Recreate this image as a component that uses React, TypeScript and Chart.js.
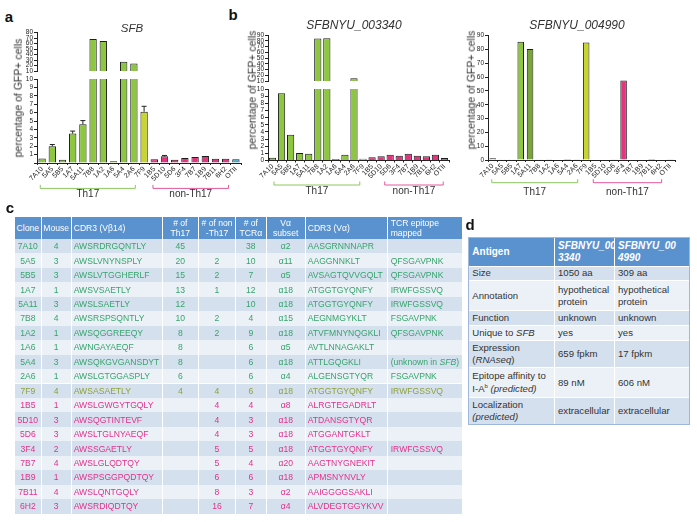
import React, { useEffect, useRef } from "react";
import { Chart, registerables } from "chart.js";
Chart.register(...registerables);

const FONT = "'Liberation Sans', Arial, Helvetica, sans-serif";

// ---------- chart data ----------
const clones = ["7A10", "5A5", "5B5", "1A7", "5A11", "7B8", "1A2", "1A6", "5A4", "2A6", "7F9", "1B5", "5D10", "5D6", "3F4", "7B7", "1B9", "7B11", "6H2", "OTII"];
const sfbPct = [0.55, 2.0, 0.4, 3.5, 4.6, 68.5, 65, 0.2, 27, 24, 6.1, 0.44, 0.8, 0.4, 0.6, 0.72, 0.83, 0.52, 0.52, 0.45];
const sfbErr = [0, 0.2, 0, 0.3, 0.45, 0, 0, 0, 0, 0, 0.65, 0, 0.1, 0, 0, 0, 0, 0, 0, 0];
const pct003340 = [0.4, 9.4, 3.6, 1.05, 0.95, 84, 84.5, 0.2, 0.8, 15, 0.25, 0.45, 0.6, 0.8, 0.65, 0.95, 0.65, 0.6, 0.8, 0.35];
const pct004990 = [1.2, 0.15, 0.15, 85.7, 80.3, 0.15, 0.5, 0.3, 0.7, 0.5, 85, 0.4, 0.3, 0.6, 57.5, 0.3, 0.4, 0.8, 0.3, 0.2];

// ---------- table c data ----------
const cMouse = ["4", "3", "3", "1", "3", "4", "1", "1", "3", "1", "4", "1", "3", "3", "2", "4", "1", "4", "3"];
const cCdr3b = ["AWSRDRGQNTLY", "AWSLVNYNSPLY", "AWSLVTGGHERLF", "AWSVSAETLY", "AWSLSAETLY", "AWSRSPSQNTLY", "AWSQGGREEQY", "AWNGAYAEQF", "AWSQKGVGANSDYT", "AWSLGTGGASPLY", "AWSASAETLY", "AWSLGWGYTGQLY", "AWSQGTINTEVF", "AWSLTGLNYAEQF", "AWSSGAETLY", "AWSLGLQDTQY", "AWSPSGGPQDTQY", "AWSLQNTGQLY", "AWSRDIQDTQY"];
const cNTh17 = ["45", "20", "15", "13", "12", "10", "8", "8", "8", "6", "4", "", "", "", "", "", "", "", ""];
const cNNon = ["", "2", "2", "1", "", "2", "2", "", "", "", "4", "4", "4", "4", "5", "5", "6", "8", "16"];
const cNTcra = ["38", "10", "7", "12", "10", "4", "9", "6", "6", "6", "6", "4", "3", "3", "5", "4", "6", "3", "7"];
const cVa = ["α2", "α11", "α5", "α18", "α18", "α15", "α18", "α5", "α18", "α4", "α18", "α8", "α18", "α18", "α18", "α20", "α18", "α2", "α4"];
const cCdr3a = ["AASGRNNNAPR", "AAGGNNKLT", "AVSAGTQVVGQLT", "ATGGTGYQNFY", "ATGGTGYQNFY", "AEGNMGYKLT", "ATVFMNYNQGKLI", "AVTLNNAGAKLT", "ATTLGQGKLI", "ALGENSGTYQR", "ATGGTGYQNFY", "ALRGTEGADRLT", "ATDANSGTYQR", "ATGGANTGKLT", "ATGGTGYQNFY", "AAGTNYGNEKIT", "APMSNYNVLY", "AAIGGGGSAKLI", "ALVDEGTGGYKVV"];
const cEpitope = ["", "QFSGAVPNK", "QFSGAVPNK", "IRWFGSSVQ", "IRWFGSSVQ", "FSGAVPNK", "QFSGAVPNK", "", "(unknown in SFB)", "FSGAVPNK", "IRWFGSSVQ", "", "", "", "IRWFGSSVQ", "", "", "", ""];
const cHeaders = ["Clone", "Mouse", "CDR3 (Vβ14)", "# of\nTh17", "# of non\n-Th17", "# of\nTCRα", "Vα\nsubset", "CDR3 (Vα)", "TCR epitope\nmapped"];

// ---------- table d data ----------
const dHeaders = ["Antigen", "SFBNYU_00\n3340", "SFBNYU_00\n4990"];
const dAttr: React.ReactNode[] = [
  "Size",
  "Annotation",
  "Function",
  <>Unique to <i>SFB</i></>,
  <>Expression<br />(<i>RNAseq</i>)</>,
  <>Epitope affinity to<br />I-A<sup style={{ fontSize: "6px", verticalAlign: "4px" }}>b</sup> <i>(predicted)</i></>,
  <>Localization<br /><i>(predicted)</i></>,
];
const d003340: React.ReactNode[] = ["1050 aa", <>hypothetical<br />protein</>, "unknown", "yes", "659 fpkm", "89 nM", "extracellular"];
const d004990: React.ReactNode[] = ["309 aa", <>hypothetical<br />protein</>, "unknown", "yes", "17 fpkm", "606 nM", "extracellular"];

// ---------- styles ----------
const GREEN = "#8DC63F";
const YGREEN = "#C8D52F";
const PINK = "#E5337F";
const BLUE = "#3EA6D3";
const DKGREEN = "#79A638";
const BR_GREEN = "#8CC660";
const BR_PINK = "#E4589B";
const baseColors = clones.map((_, i) => (i < 10 ? GREEN : i === 10 ? YGREEN : i < 19 ? PINK : BLUE));
const colors004990 = baseColors.map((c, i) => (i === 4 ? DKGREEN : c));

type Bracket = { from: number; to: number; label: string; color: string };
type BarOpts = {
  values: number[];
  colors: string[];
  min: number;
  max: number;
  step: number;
  padTop: number;
  padBottom: number;
  padRight: number;
  showX: boolean;
  hideZero?: boolean;
  barPct: number;
  errs?: number[];
  brackets?: Bracket[];
  bracketLine?: number;
  bracketText?: number;
};

function buildConfig(o: BarOpts): any {
  const data = o.values.map((v) => (v < o.min ? null : v));
  const plugins: any[] = [];
  if (o.errs) {
    const errs = o.errs;
    plugins.push({
      id: "errbars",
      afterDatasetsDraw(chart: any) {
        const { ctx, chartArea } = chart;
        const meta = chart.getDatasetMeta(0);
        const ys = chart.scales.y;
        ctx.save();
        ctx.beginPath();
        ctx.rect(chartArea.left, chartArea.top, chartArea.right - chartArea.left, chartArea.bottom - chartArea.top);
        ctx.clip();
        ctx.strokeStyle = "#222";
        ctx.lineWidth = 1;
        errs.forEach((e, i) => {
          if (!e) return;
          const el = meta.data[i];
          const v = o.values[i];
          const y1 = ys.getPixelForValue(v);
          const y2 = ys.getPixelForValue(v + e);
          ctx.beginPath();
          ctx.moveTo(el.x, y1);
          ctx.lineTo(el.x, y2);
          ctx.moveTo(el.x - 2.5, y2);
          ctx.lineTo(el.x + 2.5, y2);
          ctx.stroke();
        });
        ctx.restore();
      },
    });
  }
  if (o.brackets) {
    const br = o.brackets;
    plugins.push({
      id: "brackets",
      afterDraw(chart: any) {
        const { ctx, chartArea } = chart;
        const xs = chart.scales.x;
        ctx.save();
        br.forEach((g) => {
          const x1 = xs.getPixelForValue(g.from);
          const x2 = xs.getPixelForValue(g.to);
          const y = chartArea.bottom + (o.bracketLine || 24);
          ctx.strokeStyle = g.color;
          ctx.lineWidth = 1;
          ctx.beginPath();
          ctx.moveTo(x1, y - 3.5);
          ctx.lineTo(x1, y);
          ctx.lineTo(x2, y);
          ctx.lineTo(x2, y - 3.5);
          ctx.stroke();
          ctx.fillStyle = "#333";
          ctx.font = `10px ${FONT}`;
          ctx.textAlign = "center";
          ctx.textBaseline = "middle";
          ctx.fillText(g.label, (x1 + x2) / 2, chartArea.bottom + (o.bracketText || 31));
        });
        ctx.restore();
      },
    });
  }
  const xScale: any = {
    display: o.showX,
    grid: { display: true, drawOnChartArea: false, drawTicks: true, tickLength: 2, color: "#222" },
    border: { display: true, color: "#222", width: 1 },
    ticks: { autoSkip: false, maxRotation: 45, minRotation: 45, padding: 0, color: "#222", font: { family: FONT, size: 7 } },
  };
  if (o.showX) xScale.afterFit = (s: any) => { s.height = 20; };
  return {
    type: "bar",
    data: {
      labels: clones,
      datasets: [
        {
          data,
          backgroundColor: o.colors,
          borderColor: "#1e1e1e",
          borderWidth: 1,
          barPercentage: o.barPct,
          categoryPercentage: 1,
          clip: 0,
        },
      ],
    },
    options: {
      animation: false,
      responsive: false,
      devicePixelRatio: 1,
      layout: { padding: { top: o.padTop, bottom: o.padBottom, left: 0, right: o.padRight } },
      plugins: { legend: { display: false }, tooltip: { enabled: false }, title: { display: false } },
      scales: {
        x: xScale,
        y: {
          min: o.min,
          max: o.max,
          grid: { display: true, drawOnChartArea: false, drawTicks: true, tickLength: 3, color: "#222" },
          border: { display: true, color: "#222", width: 1 },
          ticks: {
            stepSize: o.step,
            autoSkip: false,
            padding: 1,
            color: "#222",
            font: { family: FONT, size: 6.5 },
            callback: (v: any) => (o.hideZero && v === 0 ? "" : String(v)),
          },
          afterFit: (s: any) => { s.width = 17; },
        },
      },
    },
    plugins,
  };
}

function ChartCanvas(props: { left: number; top: number; width: number; height: number; opts: BarOpts }) {
  const ref = useRef<HTMLCanvasElement>(null);
  useEffect(() => {
    const chart = new Chart(ref.current as HTMLCanvasElement, buildConfig(props.opts));
    return () => chart.destroy();
  }, []);
  return (
    <canvas
      ref={ref}
      width={props.width}
      height={props.height}
      style={{ position: "absolute", left: props.left, top: props.top, width: props.width, height: props.height }}
    />
  );
}

function CText(props: { x: number; y: number; size: number; children: React.ReactNode; italic?: boolean; bold?: boolean; rotate?: boolean; color?: string }) {
  return (
    <div
      style={{
        position: "absolute",
        left: props.x,
        top: props.y,
        transform: `translate(-50%,-50%)${props.rotate ? " rotate(-90deg)" : ""}`,
        whiteSpace: "nowrap",
        lineHeight: 1,
        fontSize: props.size,
        fontStyle: props.italic ? "italic" : "normal",
        fontWeight: props.bold ? "bold" : "normal",
        color: props.color || "#333",
        fontFamily: FONT,
      }}
    >
      {props.children}
    </div>
  );
}

function withItalicSFB(s: string): React.ReactNode {
  if (!s.includes("SFB")) return s;
  const parts = s.split("SFB");
  return (
    <>
      {parts[0]}
      <i>SFB</i>
      {parts[1]}
    </>
  );
}

function TableC() {
  const edges = [15, 41.7, 71.7, 162.7, 199, 236, 266.7, 305.7, 387.7, 461.7];
  const aligns = ["center", "center", "left", "center", "center", "center", "center", "left", "left"];
  const top0 = 216.7;
  const headH = 22.3;
  const rowH = 14.45;
  const cell = (i: number, top: number, h: number, content: React.ReactNode, bg: string, color: string, head: boolean) => (
    <div
      key={i}
      style={{
        position: "absolute",
        left: edges[i],
        top,
        width: edges[i + 1] - edges[i],
        height: h,
        boxSizing: "border-box",
        borderRight: i < 8 ? "1px solid #ffffff" : "none",
        background: bg,
        color,
        display: "flex",
        alignItems: "center",
        justifyContent: aligns[i] === "center" ? "center" : "flex-start",
        textAlign: aligns[i] === "center" ? "center" : "left",
        paddingLeft: aligns[i] === "left" ? (i === 8 ? 3 : 2) : 0,
        whiteSpace: "pre",
        fontSize: 8.6,
        lineHeight: head ? "10px" : "12px",
        fontFamily: FONT,
        overflow: "visible",
      }}
    >
      {content}
    </div>
  );
  const rows: React.ReactNode[] = [];
  cHeaders.forEach((h, i) => rows.push(cell(i, top0, headH, h, "#5A92CF", "#ffffff", true)));
  for (let r = 0; r < cCdr3b.length; r++) {
    const bg = r % 2 === 0 ? "#D5E0EF" : "#ECF1F8";
    const col = r < 10 ? "#36A46C" : r === 10 ? "#8DA23A" : "#E3318B";
    const vals: React.ReactNode[] = [clones[r], cMouse[r], cCdr3b[r], cNTh17[r], cNNon[r], cNTcra[r], cVa[r], cCdr3a[r], withItalicSFB(cEpitope[r])];
    const t = top0 + headH + r * rowH;
    rows.push(<div key={`r${r}`}>{vals.map((v, i) => cell(i, t, rowH, v, bg, col, false))}</div>);
  }
  return <>{rows}</>;
}

function TableD() {
  const edges = [469.3, 555, 615, 689.3];
  const rowEdges = [237.7, 265.7, 280, 310, 325, 340, 367.3, 396.7, 424];
  const cols = [dAttr, d003340, d004990];
  const items: React.ReactNode[] = [];
  dHeaders.forEach((h, i) => {
    items.push(
      <div
        key={`h${i}`}
        style={{
          position: "absolute",
          left: edges[i],
          top: rowEdges[0],
          width: edges[i + 1] - edges[i],
          height: rowEdges[1] - rowEdges[0],
          boxSizing: "border-box",
          borderRight: i < 2 ? "1px solid #ffffff" : "none",
          background: "#5A92CF",
          color: "#fff",
          fontWeight: "bold",
          fontStyle: i > 0 ? "italic" : "normal",
          fontSize: 10,
          lineHeight: "12px",
          whiteSpace: "pre",
          display: "flex",
          alignItems: "center",
          paddingLeft: 3,
          fontFamily: FONT,
        }}
      >
        {h}
      </div>
    );
  });
  for (let r = 0; r < dAttr.length; r++) {
    const bg = r % 2 === 0 ? "#D5E0EF" : "#ECF1F8";
    for (let c = 0; c < 3; c++) {
      items.push(
        <div
          key={`d${r}_${c}`}
          style={{
            position: "absolute",
            left: edges[c],
            top: rowEdges[r + 1],
            width: edges[c + 1] - edges[c],
            height: rowEdges[r + 2] - rowEdges[r + 1],
            boxSizing: "border-box",
            borderRight: c < 2 ? "1px solid #ffffff" : "none",
            borderTop: "1px solid #ffffff",
            background: bg,
            color: "#333",
            fontSize: 9.6,
            lineHeight: "11.7px",
            display: "flex",
            alignItems: "center",
            paddingLeft: 3,
            fontFamily: FONT,
            whiteSpace: "nowrap",
          }}
        >
          <div>{cols[c][r]}</div>
        </div>
      );
    }
  }
  items.push(
    <div
      key="border"
      style={{
        position: "absolute",
        left: edges[0] - 1,
        top: rowEdges[0] - 1,
        width: edges[3] - edges[0] + 2,
        height: rowEdges[8] - rowEdges[0] + 2,
        boxSizing: "border-box",
        border: "1px solid #9FB7DA",
        pointerEvents: "none",
      }}
    />
  );
  return <>{items}</>;
}

export default function App() {
  const th17Bracket = (from: number, to: number, from2: number, to2: number): Bracket[] => [
    { from, to, label: "Th17", color: BR_GREEN },
    { from: from2, to: to2, label: "non-Th17", color: BR_PINK },
  ];
  return (
    <div style={{ position: "fixed", left: 0, top: 0, width: 697, height: 522, background: "#fff", overflow: "hidden", fontFamily: FONT }}>
      {/* panel a */}
      <ChartCanvas
        left={20}
        top={26}
        width={224}
        height={50}
        opts={{ values: sfbPct, colors: baseColors, min: 10, max: 80, step: 10, padTop: 6.7, padBottom: 4.3, padRight: 3, showX: false, barPct: 0.72 }}
      />
      <ChartCanvas
        left={20}
        top={73}
        width={224}
        height={127}
        opts={{
          values: sfbPct, colors: baseColors, min: 0, max: 10, step: 1, padTop: 6, padBottom: 17, padRight: 3, showX: true, hideZero: true, barPct: 0.72,
          errs: sfbErr, brackets: th17Bracket(-0.18, 9.14, 10.87, 18.28), bracketLine: 25.4, bracketText: 31.5,
        }}
      />
      {/* panel b left */}
      <ChartCanvas
        left={251}
        top={29}
        width={201}
        height={57}
        opts={{ values: pct003340, colors: baseColors, min: 10, max: 90, step: 10, padTop: 6, padBottom: 4, padRight: 3, showX: false, barPct: 0.8 }}
      />
      <ChartCanvas
        left={251}
        top={83}
        width={201}
        height={117}
        opts={{
          values: pct003340, colors: baseColors, min: 0, max: 10, step: 1, padTop: 6, padBottom: 19.5, padRight: 3, showX: true, barPct: 0.8,
          brackets: th17Bracket(0.16, 9.64, 12.4, 18.86), bracketLine: 24.5, bracketText: 31.2,
        }}
      />
      {/* panel b right */}
      <ChartCanvas
        left={471}
        top={30}
        width={207}
        height={170}
        opts={{
          values: pct004990, colors: colors004990, min: 0, max: 90, step: 10, padTop: 5.7, padBottom: 20, padRight: 3, showX: true, barPct: 0.7,
          brackets: th17Bracket(-0.1, 9.1, 10.76, 18.07), bracketLine: 22.7, bracketText: 32.3,
        }}
      />

      <CText x={9} y={16} size={15} bold color="#111">a</CText>
      <CText x={233} y={14} size={15} bold color="#111">b</CText>
      <CText x={10} y={207} size={15} bold color="#111">c</CText>
      <CText x={470} y={224} size={15} bold color="#111">d</CText>

      <CText x={132} y={29} size={11.5} italic>SFB</CText>
      <CText x={354} y={25} size={12} italic>SFBNYU_003340</CText>
      <CText x={577} y={25} size={12} italic>SFBNYU_004990</CText>

      <CText x={18} y={98} size={10.5} rotate>percentage of GFP+ cells</CText>
      <CText x={251.5} y={90} size={10.5} rotate>percentage of GFP+ cells</CText>
      <CText x={471} y={90} size={10.5} rotate>percentage of GFP+ cells</CText>

      <TableC />
      <TableD />
    </div>
  );
}
